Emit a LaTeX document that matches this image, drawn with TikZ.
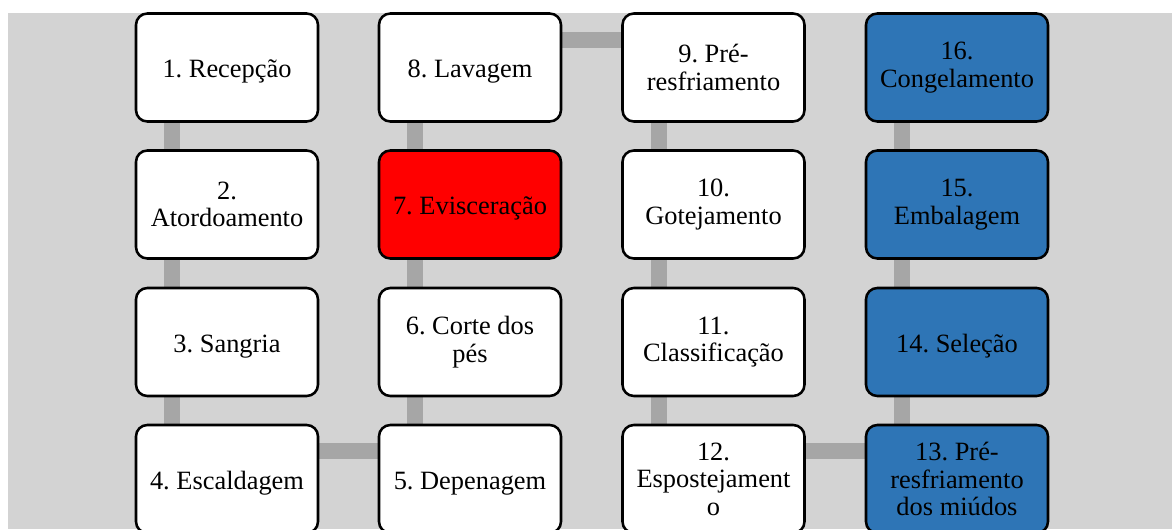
\documentclass[tikz,border=0pt]{standalone}
\usepackage{fontspec}
\setmainfont{Liberation Serif}
\frenchspacing
\usetikzlibrary{backgrounds}
\definecolor{bggray}{HTML}{D3D3D3}
\definecolor{conngray}{HTML}{A6A6A6}
\definecolor{stepblue}{HTML}{2E75B6}
\definecolor{stepred}{HTML}{FF0000}
\tikzset{
  x=0.75pt, y=-0.75pt,
  stepbox/.style={draw=black, line width=1.9pt, rounded corners=8.5pt, fill=white,
    minimum width=136.5pt, minimum height=81pt, inner sep=0pt, align=center,
    font=\fontsize{19.8pt}{20.6pt}\selectfont\frenchspacing, text=black,
    execute at begin node={\rule{0pt}{19.8pt}}},
  redbox/.style={stepbox, fill=stepred},
  bluebox/.style={stepbox, fill=stepblue},
  conn/.style={draw=conngray, line width=12pt, line cap=butt},
}
\begin{document}
\begin{tikzpicture}
\useasboundingbox (0,0) rectangle (1172,529);
\clip (0,0) rectangle (1172,529);
% column 1
\node[stepbox] (n1) at (227,67.5) {1. Recepção};
\node[stepbox] (n2) at (227,204.5) {2.\\Atordoamento};
\node[stepbox] (n3) at (227,342) {3. Sangria};
\node[stepbox] (n4) at (227,479) {4. Escaldagem};
% column 2
\node[stepbox] (n5) at (470,479) {5. Depenagem};
\node[stepbox] (n6) at (470,342) {6. Corte dos\\pés};
\node[redbox]  (n7) at (470,204.5) {7. Evisceração};
\node[stepbox] (n8) at (470,67.5) {8. Lavagem};
% column 3
\node[stepbox] (n9) at (713.5,67.5) {9. Pré-\\resfriamento};
\node[stepbox] (n10) at (713.5,204.5) {10.\\Gotejamento};
\node[stepbox] (n11) at (713.5,342) {11.\\Classificação};
\node[stepbox] (n12) at (713.5,479) {12.\\Espostejament\\o};
% column 4
\node[bluebox] (n13) at (957,479) {13. Pré-\\resfriamento\\dos miúdos};
\node[bluebox] (n14) at (957,342) {14. Seleção};
\node[bluebox] (n15) at (957,204.5) {15.\\Embalagem};
\node[bluebox] (n16) at (957,67.5) {16.\\Congelamento};
\begin{pgfonlayer}{background}
  \fill[bggray] (8,13) rectangle (1172,529);
  \foreach \a/\b in {n1/n2,n2/n3,n3/n4,n5/n6,n6/n7,n7/n8,n9/n10,n10/n11,n11/n12,n13/n14,n14/n15,n15/n16}{
    \path[conn] ([xshift=28pt]\a.north west) -- ([xshift=28pt]\b.south west);
    \path[conn] ([xshift=28pt]\a.south west) -- ([xshift=28pt]\b.north west);
  }
  \path[conn] ([yshift=-20.5pt]n4.north east) -- ([yshift=-20.5pt]n5.north west);
  \path[conn] ([yshift=-20.5pt]n8.north east) -- ([yshift=-20.5pt]n9.north west);
  \path[conn] ([yshift=-20.5pt]n12.north east) -- ([yshift=-20.5pt]n13.north west);
\end{pgfonlayer}
\end{tikzpicture}
\end{document}
